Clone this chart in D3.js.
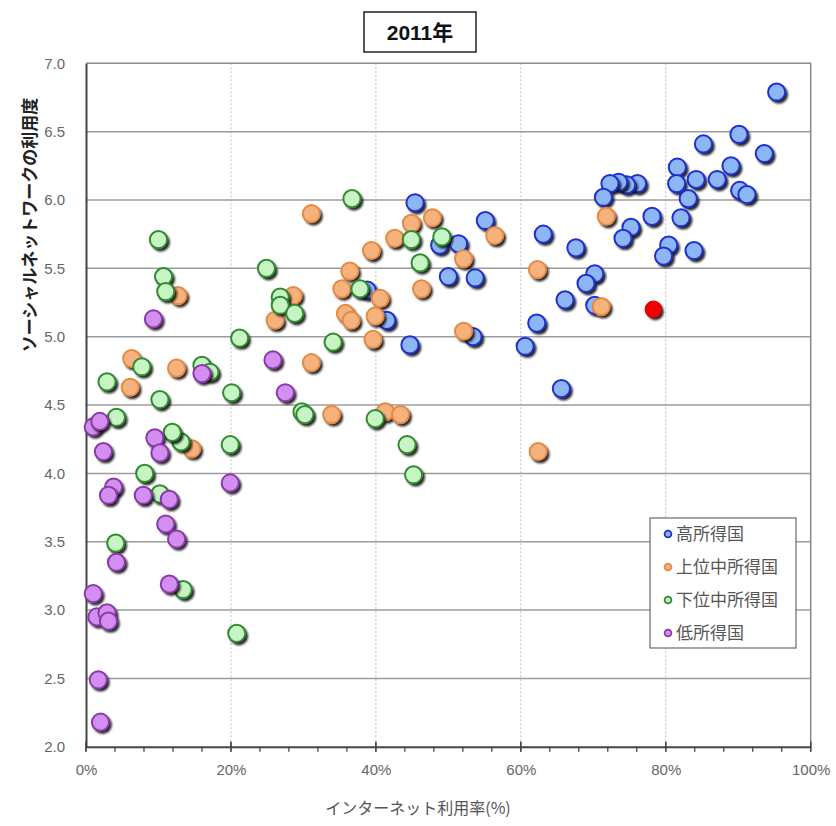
<!DOCTYPE html>
<html>
<head>
<meta charset="utf-8">
<script src="https://cdn.jsdelivr.net/npm/d3@7"></script>
<style>
  body { margin: 0; background: #fff; }
  svg { display: block; font-family: "Liberation Sans Narrow", "Liberation Sans", Arial, sans-serif; }
</style>
</head>
<body>
<div id="chart"></div>
<script>
// 2011年: インターネット利用率(%) vs ソーシャルネットワークの利用度

const title = "2011年";
const xTicks = [0, 20, 40, 60, 80, 100];
const yTicks = [2.0, 2.5, 3.0, 3.5, 4.0, 4.5, 5.0, 5.5, 6.0, 6.5, 7.0];
const seriesNames = ["高所得国", "上位中所得国", "下位中所得国", "低所得国"];

// [internet use %, SNS usage]
const highIncome = [
  [95.3, 6.79], [90.1, 6.48], [85.2, 6.41], [93.6, 6.34], [81.6, 6.24], [89.0, 6.25],
  [84.2, 6.15], [81.5, 6.12], [87.1, 6.15], [90.2, 6.07], [91.2, 6.04], [83.1, 6.01],
  [76.1, 6.12], [74.6, 6.11], [73.5, 6.13], [72.3, 6.12], [71.4, 6.02], [78.1, 5.88],
  [82.1, 5.87], [75.2, 5.80], [74.1, 5.72], [63.1, 5.75], [67.6, 5.65], [80.4, 5.67],
  [79.7, 5.59], [83.9, 5.63], [70.2, 5.46], [69.0, 5.39], [66.1, 5.27], [62.2, 5.10],
  [60.6, 4.93], [70.2, 5.23], [65.6, 4.62], [53.4, 5.00], [44.7, 4.94], [45.4, 5.98],
  [55.1, 5.85], [48.8, 5.67], [51.4, 5.68], [50.0, 5.44], [53.7, 5.43], [41.5, 5.12],
  [38.8, 5.34]
];
const upperMiddle = [
  [71.8, 5.88], [62.3, 5.49], [71.1, 5.22], [62.4, 4.16], [31.1, 5.90], [44.9, 5.83],
  [47.8, 5.87], [56.4, 5.74], [42.6, 5.72], [39.4, 5.63], [52.1, 5.57], [36.4, 5.48],
  [35.3, 5.35], [40.6, 5.28], [35.8, 5.17], [36.6, 5.12], [39.9, 5.15], [46.3, 5.35],
  [52.1, 5.04], [39.6, 4.98], [26.1, 5.12], [28.6, 5.30], [12.7, 5.30], [31.1, 4.81],
  [6.3, 4.84], [12.5, 4.77], [6.1, 4.63], [33.9, 4.43], [41.3, 4.45], [43.4, 4.43],
  [14.6, 4.18]
];
const lowerMiddle = [
  [36.7, 6.01], [44.9, 5.71], [49.1, 5.73], [46.1, 5.54], [37.8, 5.35], [10.0, 5.71],
  [10.7, 5.44], [11.0, 5.33], [24.9, 5.50], [26.8, 5.29], [26.8, 5.23], [28.8, 5.17],
  [21.2, 4.99], [34.1, 4.96], [7.7, 4.78], [16.0, 4.79], [17.1, 4.74], [2.9, 4.67],
  [10.2, 4.54], [20.1, 4.59], [29.8, 4.45], [30.2, 4.43], [39.9, 4.40], [44.3, 4.21],
  [45.2, 3.99], [19.9, 4.21], [13.1, 4.23], [11.9, 4.30], [4.2, 4.41], [8.1, 4.00],
  [10.2, 3.85], [4.1, 3.49], [13.4, 3.15], [20.8, 2.83]
];
const lowIncome = [
  [9.3, 5.13], [25.8, 4.83], [16.0, 4.73], [27.5, 4.59], [1.0, 4.34], [1.9, 4.38],
  [9.5, 4.26], [10.2, 4.15], [2.4, 4.16], [19.9, 3.93], [3.8, 3.90], [3.1, 3.84],
  [7.9, 3.84], [11.5, 3.81], [11.0, 3.63], [12.5, 3.52], [4.2, 3.35], [11.5, 3.19],
  [1.0, 3.12], [1.5, 2.95], [2.9, 2.98], [3.1, 2.92], [1.7, 2.49], [2.0, 2.18]
];
// highlighted country (red)
const highlight = [[78.3, 5.20]];

const seriesData = [highIncome, upperMiddle, lowerMiddle, lowIncome];
const fills = ["#8cb6f6", "#f6b27c", "#c6f4c2", "#d38ff0"];
const strokes = ["#1f2fd0", "#e58a45", "#2f8a30", "#8a3aa8"];

const W = 836, H = 826;
const svg = d3.select("#chart").append("svg").attr("width", W).attr("height", H);

const x = d3.scaleLinear().domain([0, 100]).range([86, 810.7]);
const y = d3.scaleLinear().domain([2, 7]).range([746.8, 63.3]);

const defs = svg.append("defs");
defs.append("filter").attr("id", "blur")
  .append("feGaussianBlur").attr("stdDeviation", 0.9);

// gridlines
svg.append("g")
  .selectAll("line")
  .data(xTicks.slice(1, -1))
  .enter().append("line")
  .attr("x1", d => x(d)).attr("x2", d => x(d))
  .attr("y1", y(7)).attr("y2", y(2))
  .attr("stroke", "#bdbdbd").attr("stroke-width", 1)
  .attr("stroke-dasharray", "2,2");

svg.append("g")
  .selectAll("line")
  .data(yTicks.slice(1, -1))
  .enter().append("line")
  .attr("x1", x(0)).attr("x2", x(100))
  .attr("y1", d => y(d)).attr("y2", d => y(d))
  .attr("stroke", "#9c9c9c").attr("stroke-width", 1.5);

// plot frame (top/right)
svg.append("path")
  .attr("d", `M${x(0)},${y(7)}H${x(100)}V${y(2)}`)
  .attr("fill", "none").attr("stroke", "#888").attr("stroke-width", 1.5);

// axes
const xAxis = svg.append("g")
  .attr("transform", `translate(0,${y(2)})`)
  .call(d3.axisBottom(x).tickValues(xTicks).tickFormat(d => d + "%").tickSize(0).tickPadding(18));
xAxis.select(".domain").attr("stroke", "#444").attr("stroke-width", 2);
xAxis.selectAll("text").attr("font-size", 15).attr("fill", "#666");

// tick marks: major cross the axis, minor every 4% below
svg.append("g")
  .selectAll("line")
  .data(d3.range(0, 101, 4))
  .enter().append("line")
  .attr("x1", d => x(d)).attr("x2", d => x(d))
  .attr("y1", d => y(2) + (d % 20 === 0 ? -5 : 0))
  .attr("y2", y(2) + 5)
  .attr("stroke", "#444").attr("stroke-width", 1.3);
svg.append("g")
  .selectAll("line")
  .data(xTicks)
  .enter().append("line")
  .attr("x1", d => x(d)).attr("x2", d => x(d))
  .attr("y1", y(2) - 5).attr("y2", y(2) + 5)
  .attr("stroke", "#444").attr("stroke-width", 1.3);

const yAxis = svg.append("g")
  .attr("transform", `translate(${x(0)},0)`)
  .call(d3.axisLeft(y).tickValues(yTicks).tickFormat(d3.format(".1f")).tickSize(0).tickPadding(21));
yAxis.select(".domain").attr("stroke", "#444").attr("stroke-width", 2);
yAxis.selectAll("text").attr("font-size", 15).attr("fill", "#666");

// markers: shadow then circle, series drawn in order
seriesData.forEach((data, i) => {
  const g = svg.append("g");
  const pts = g.selectAll("g").data(data).enter().append("g");
  pts.append("circle")
    .attr("cx", d => x(d[0]) + 2.2).attr("cy", d => y(d[1]) + 2.6)
    .attr("r", 9.2)
    .attr("fill", "#111").attr("opacity", 0.9)
    .attr("filter", "url(#blur)");
  pts.append("circle")
    .attr("cx", d => x(d[0])).attr("cy", d => y(d[1]))
    .attr("r", 8.6)
    .attr("fill", fills[i])
    .attr("stroke", strokes[i]).attr("stroke-width", 2);
});

const hl = svg.append("g").selectAll("g").data(highlight).enter().append("g");
hl.append("circle")
  .attr("cx", d => x(d[0]) + 2).attr("cy", d => y(d[1]) + 2.4)
  .attr("r", 8.4).attr("fill", "#222").attr("filter", "url(#blur)");
hl.append("circle")
  .attr("cx", d => x(d[0])).attr("cy", d => y(d[1]))
  .attr("r", 8.4).attr("fill", "#f00000").attr("stroke", "#d00000").attr("stroke-width", 1);

// legend
const legend = svg.append("g");
legend.append("rect")
  .attr("x", 650).attr("y", 518).attr("width", 146).attr("height", 130)
  .attr("fill", "#fff").attr("stroke", "#6a6a6a").attr("stroke-width", 1.2);
const items = legend.selectAll("g.item").data(seriesNames).enter().append("g")
  .attr("class", "item")
  .attr("transform", (d, i) => `translate(668,${534 + i * 33})`);
items.append("circle")
  .attr("r", 3.4)
  .attr("fill", (d, i) => fills[i])
  .attr("stroke", (d, i) => strokes[i]).attr("stroke-width", 1.8);
items.append("text")
  .attr("x", 8).attr("dy", "0.36em")
  .attr("font-family", "'Noto Sans CJK JP', sans-serif")
  .attr("font-size", 17).attr("fill", "#555")
  .text(d => d);

// title box
svg.append("rect")
  .attr("x", 364).attr("y", 12).attr("width", 112).attr("height", 40)
  .attr("fill", "#fff").attr("stroke", "#222").attr("stroke-width", 1.5);
svg.append("text")
  .attr("x", 420).attr("y", 32).attr("dy", "0.36em")
  .attr("text-anchor", "middle")
  .attr("font-family", "'Liberation Sans', 'Noto Sans CJK JP', sans-serif")
  .attr("font-weight", "bold").attr("font-size", 21).attr("fill", "#111")
  .text(title);

// axis titles
svg.append("text")
  .attr("x", 418).attr("y", 808).attr("dy", "0.36em")
  .attr("text-anchor", "middle")
  .attr("font-family", "'Noto Sans CJK JP', sans-serif")
  .attr("font-size", 16).attr("fill", "#555")
  .text("インターネット利用率(%)");

svg.append("text")
  .attr("transform", "translate(30,225) rotate(-90)")
  .attr("dy", "0.36em")
  .attr("text-anchor", "middle")
  .attr("font-family", "'Noto Sans CJK JP', sans-serif")
  .attr("font-size", 17).attr("font-weight", "bold").attr("fill", "#222")
  .text("ソーシャルネットワークの利用度");
</script>
</body>
</html>
